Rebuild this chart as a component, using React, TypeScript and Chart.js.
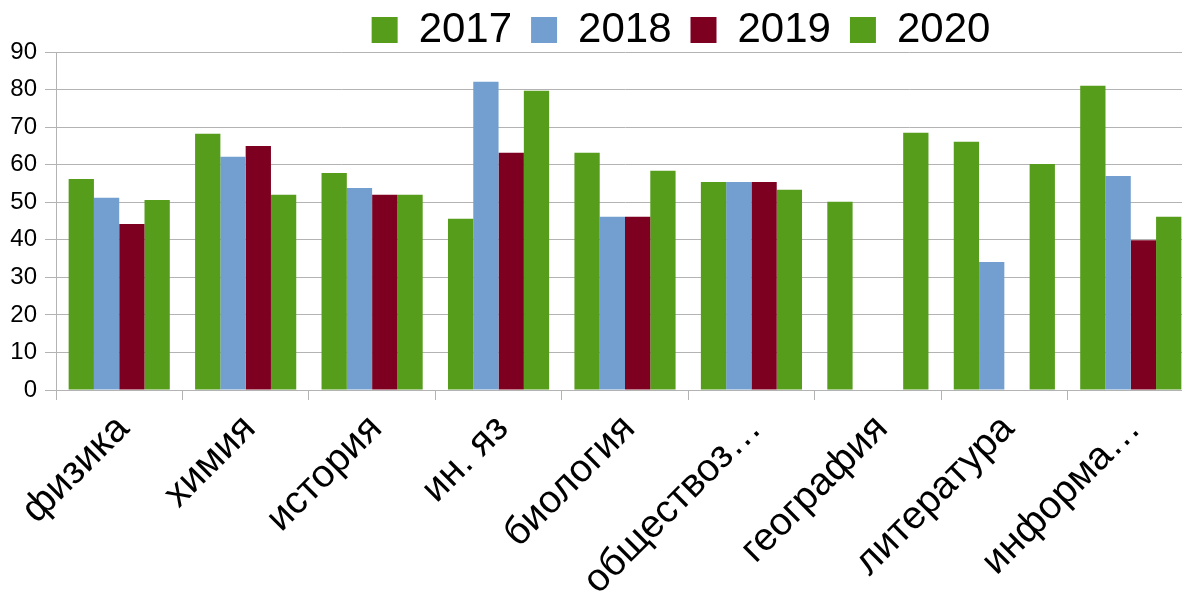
import React, { useEffect, useRef } from "react";
import { Chart, registerables } from "chart.js";

Chart.register(...registerables);

const categories = [
  "физика",
  "химия",
  "история",
  "ин. яз",
  "биология",
  "обществоз…",
  "география",
  "литература",
  "информа…",
];

const seriesNames = ["2017", "2018", "2019", "2020"];
const values2017 = [56.2, 68.2, 57.8, 45.6, 63.2, 55.4, 50.1, 66.1, 81.0];
const values2018 = [51.2, 62.1, 53.8, 82.1, 46.1, 55.4, null, 34.1, 57.0];
const values2019 = [44.2, 65.0, 52.0, 63.2, 46.1, 55.4, null, null, 39.9];
const values2020 = [50.6, 52.0, 52.0, 79.7, 58.4, 53.3, 68.5, 60.2, 46.1];
const seriesColors = ["#579d1c", "#729fcf", "#7e0021", "#579d1c"];

const yMin = 0;
const yMax = 90;
const yStep = 10;

const FONT = "'Liberation Sans', Arial, sans-serif";

export default function App() {
  const canvasRef = useRef<HTMLCanvasElement | null>(null);

  useEffect(() => {
    const canvas = canvasRef.current;
    if (!canvas) return;
    const allValues = [values2017, values2018, values2019, values2020];
    const chart = new Chart(canvas, {
      type: "bar",
      data: {
        labels: categories,
        datasets: seriesNames.map((name, i) => ({
          label: name,
          data: allValues[i],
          backgroundColor: seriesColors[i],
          borderWidth: 0,
          barPercentage: 1.0,
          categoryPercentage: 0.8,
          yAxisID: "y",
        })),
      },
      options: {
        responsive: false,
        animation: false,
        devicePixelRatio: 1,
        layout: { padding: { top: -10, left: 0, right: 0, bottom: 0 } },
        plugins: {
          legend: {
            display: true,
            position: "top",
            maxHeight: 62,
            labels: {
              boxWidth: 26,
              boxHeight: 26,
              padding: 19,
              color: "#000",
              font: { family: FONT, size: 42 },
            },
          },
          tooltip: { enabled: false },
        },
        scales: {
          x: {
            grid: {
              offset: true,
              drawOnChartArea: false,
              drawTicks: true,
              tickLength: 10,
              color: "#b3b3b3",
              lineWidth: 1,
            },
            border: { display: true, color: "#b3b3b3", width: 1 },
            ticks: {
              autoSkip: false,
              maxRotation: 45,
              minRotation: 45,
              padding: 6,
              labelOffset: 4,
              color: "#000",
              font: { family: FONT, size: 39 },
            },
            afterFit: (s: any) => {
              s.height = 201;
            },
          },
          y: {
            min: yMin,
            max: yMax,
            position: "left",
            ticks: {
              stepSize: yStep,
              padding: 8,
              color: "#000",
              font: { family: FONT, size: 24 },
            },
            grid: {
              color: "#b3b3b3",
              lineWidth: 1,
              tickLength: 11,
              drawTicks: true,
            },
            border: { display: true, color: "#b3b3b3", width: 1 },
            afterFit: (s: any) => {
              s.width = 56;
            },
          },
          spacer: {
            type: "linear",
            position: "right",
            display: true,
            grid: { display: false, drawTicks: false },
            ticks: { display: false },
            border: { display: false },
            afterFit: (s: any) => {
              s.width = 168;
            },
          },
        },
      },
    } as any);
    return () => chart.destroy();
  }, []);

  return (
    <div
      style={{
        position: "fixed",
        left: 0,
        top: 0,
        width: 1182,
        height: 591,
        overflow: "hidden",
        background: "#fff",
      }}
    >
      <canvas
        ref={canvasRef}
        width={1362}
        height={591}
        style={{ display: "block", width: 1362, height: 591 }}
      />
    </div>
  );
}
